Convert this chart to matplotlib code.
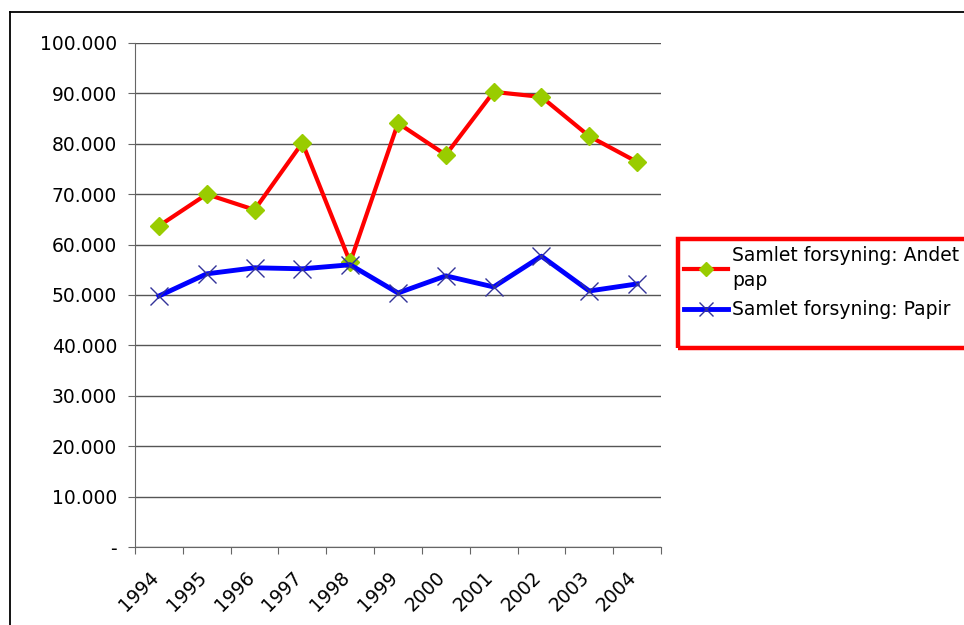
import matplotlib
matplotlib.use("Agg")
import matplotlib.pyplot as plt
import matplotlib.transforms as mtransforms
from matplotlib.lines import Line2D
from matplotlib.patches import Rectangle
from matplotlib.ticker import FuncFormatter, MultipleLocator

years = ["1994", "1995", "1996", "1997", "1998", "1999",
         "2000", "2001", "2002", "2003", "2004"]
andet_pap = [63700, 70000, 66900, 80200, 56500, 84100,
             77800, 90300, 89300, 81500, 76400]
papir = [49800, 54200, 55400, 55200, 56000, 50400,
         53800, 51600, 57700, 50800, 52200]

plt.rcParams['font.family'] = ['DejaVu Sans']

fig = plt.figure(figsize=(9.64, 6.25), dpi=100)
ax = fig.add_axes([135 / 964, 1 - 547 / 625, 526 / 964, 504 / 625])

x = list(range(len(years)))
ax.plot(x, andet_pap, color='#FF0000', lw=3, marker='D', ms=9,
        mfc='#99CC00', mec='#99CC00', label='Samlet forsyning: Andet\npap')
ax.plot(x, papir, color='#0000FF', lw=3.5, marker='x', ms=13, mew=1,
        mec='#333399', label='Samlet forsyning: Papir')

ax.set_xlim(-0.5, len(years) - 0.5)
ax.set_ylim(0, 100000)
ax.yaxis.set_major_locator(MultipleLocator(10000))


def fmt(v, pos):
    if v == 0:
        return '-'
    return f"{v:,.0f}".replace(',', '.')


ax.yaxis.set_major_formatter(FuncFormatter(fmt))
ax.set_xticks([i - 0.5 for i in range(len(years) + 1)])
ax.set_xticklabels([])
ax.set_xticks(x, minor=True)
ax.set_xticklabels(years, minor=True, rotation=45, ha='right',
                   rotation_mode='anchor', fontsize=13.5)
ax.tick_params(axis='x', which='minor', length=0, pad=15)
ax.tick_params(axis='x', which='major', length=5, color='#666666')
ax.tick_params(axis='y', length=5, color='#666666', labelsize=13.5, pad=8)
shift = mtransforms.ScaledTranslation(-10 / 100, 0, fig.dpi_scale_trans)
for lbl in ax.get_xticklabels(minor=True):
    lbl.set_transform(lbl.get_transform() + shift)

ax.grid(axis='y', color='#555555', lw=1)
ax.set_axisbelow(True)
for s in ['top', 'right']:
    ax.spines[s].set_visible(False)
for s in ['left', 'bottom']:
    ax.spines[s].set_color('#666666')

# legend box (runs off the right edge like the original)
fig.add_artist(Rectangle((678 / 964, 1 - 348 / 625), 300 / 964, 109 / 625,
                         transform=fig.transFigure, fill=False,
                         edgecolor='#FF0000', lw=3.2))
leg = fig.legend(loc='upper left', bbox_to_anchor=(680 / 964, 1 - 242 / 625),
                 fontsize=13.5, frameon=False, handlelength=2.35,
                 handletextpad=0.25, borderpad=0.2, labelspacing=0.55,
                 borderaxespad=0)
for t in leg.get_texts():
    t.set_linespacing(1.4)
for h in leg.legend_handles:
    h.set_markersize(h.get_markersize() * 0.75)

# outer chart frame
fig.add_artist(Line2D([10 / 964, 10 / 964], [0, 1 - 12 / 625], color='black', lw=1.3))
fig.add_artist(Line2D([10 / 964, 1], [1 - 12 / 625, 1 - 12 / 625], color='black', lw=1.3))

fig.savefig('out.png', dpi=100)
plt.close(fig)
